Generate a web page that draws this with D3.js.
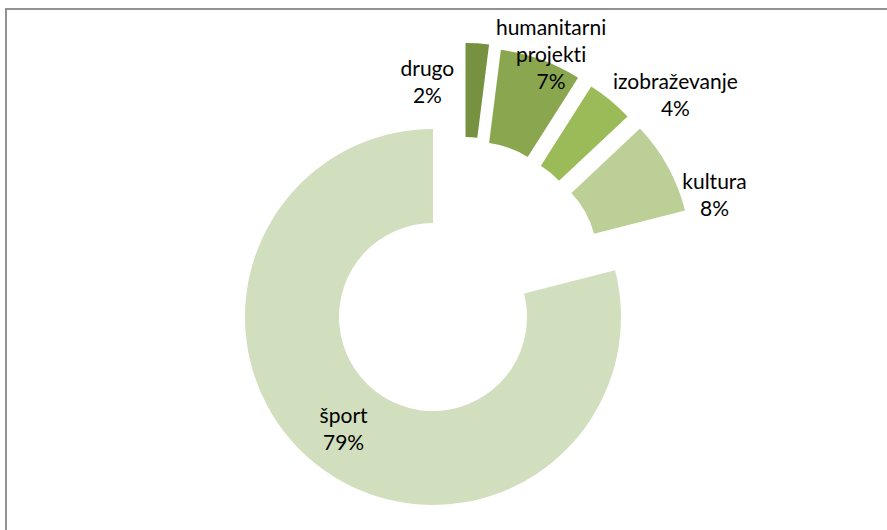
<!DOCTYPE html>
<html>
<head>
<meta charset="utf-8">
<script src="https://cdn.jsdelivr.net/npm/d3@7"></script>
<style>
  html, body { margin: 0; padding: 0; background: #ffffff; }
  svg { display: block; }
  text { font-family: Lato, "Open Sans", sans-serif; font-variant-ligatures: none; font-feature-settings: "liga" 0, "clig" 0; }
</style>
</head>
<body>
<div id="chart"></div>
<script>
// Shares of the budget by area (percent)
const categories = ["drugo", "humanitarni projekti", "izobraževanje", "kultura", "šport"];
const values = [2, 7, 4, 8, 79];
const labelLines = [["drugo"], ["humanitarni", "projekti"], ["izobraževanje"], ["kultura"], ["šport"]];
const colors = ["#76913f", "#8aa64f", "#9bbb59", "#bbcf97", "#d1dfbf"];
const exploded = [true, true, true, true, false];

const width = 887, height = 530;
const cx = 433, cy = 317;
const outerR = 188, innerR = 94;
const explodeDist = 92;
const fontSize = 21, lineH = 27;

// label nudges from each slice's centroid (first-line baseline)
const labelNudge = [[-47, -14], [26, -69], [95, -48], [88, 0], [-3, -5]];

const svg = d3.select("#chart").append("svg")
  .attr("width", width).attr("height", height);

// chart area frame
svg.append("rect")
  .attr("x", 6).attr("y", 9)
  .attr("width", 950).attr("height", 600)
  .attr("fill", "none")
  .attr("stroke", "#929292")
  .attr("stroke-width", 2);

const data = categories.map((c, i) => ({ name: c, value: values[i], i }));

const pie = d3.pie().sort(null).value(d => d.value);
const arcs = pie(data);
const arc = d3.arc().innerRadius(innerR).outerRadius(outerR);

// exploded slices move out along a direction between their own bisector and the bisector of the exploded group
const groupArcs = arcs.filter(a => exploded[a.data.i]);
const groupMid = (d3.min(groupArcs, a => a.startAngle) + d3.max(groupArcs, a => a.endAngle)) / 2;

function shift(a) {
  if (!exploded[a.data.i]) return [0, 0];
  const mid = (a.startAngle + a.endAngle) / 2;
  const dir = (mid + groupMid) / 2;
  return [explodeDist * Math.sin(dir), -explodeDist * Math.cos(dir)];
}

const g = svg.append("g").attr("transform", `translate(${cx},${cy})`);

const slice = g.selectAll("g.slice").data(arcs).join("g")
  .attr("class", "slice")
  .attr("transform", a => { const s = shift(a); return `translate(${s[0]},${s[1]})`; });

slice.append("path")
  .attr("d", arc)
  .attr("fill", a => colors[a.data.i]);

// data labels: category name and percentage
g.selectAll("text.lbl").data(arcs).join("text")
  .attr("class", "lbl")
  .attr("text-anchor", "middle")
  .attr("font-size", fontSize)
  .attr("fill", "#000000")
  .each(function (a) {
    const s = shift(a);
    const c = arc.centroid(a);
    const n = labelNudge[a.data.i];
    const x = c[0] + s[0] + n[0];
    const y = c[1] + s[1] + n[1];
    const lines = labelLines[a.data.i].concat([a.data.value + "%"]);
    const t = d3.select(this);
    lines.forEach((ln, k) => {
      t.append("tspan").attr("x", x).attr("y", y + k * lineH).text(ln);
    });
  });
</script>
</body>
</html>
